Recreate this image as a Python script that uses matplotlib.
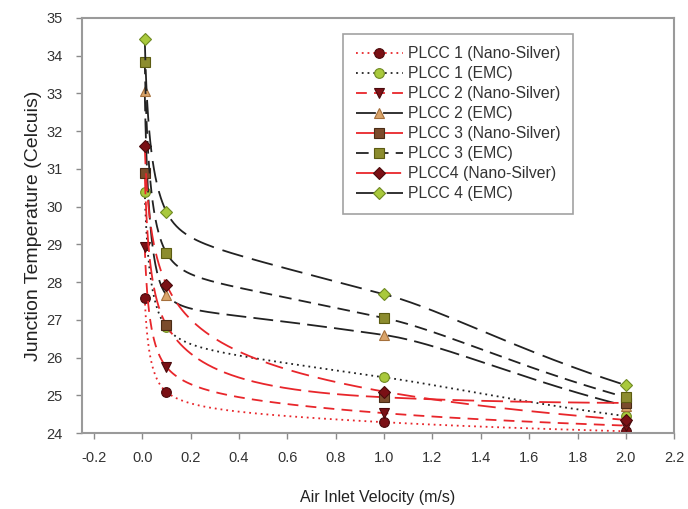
import numpy as np
import matplotlib
matplotlib.use("Agg")
import matplotlib.pyplot as plt

plt.rcParams['font.family'] = ['Liberation Sans', 'DejaVu Sans']

# ---- data ----
velocity = [0.01, 0.1, 1.0, 2.0]

plcc1_nano = [27.58, 25.09, 24.29, 24.05]
plcc1_emc = [30.40, 26.80, 25.48, 24.45]
plcc2_nano = [28.93, 25.75, 24.53, 24.20]
plcc2_emc = [33.05, 27.66, 26.60, 24.72]
plcc3_nano = [30.90, 26.86, 24.95, 24.80]
plcc3_emc = [33.84, 28.77, 27.05, 24.95]
plcc4_nano = [31.60, 27.93, 25.10, 24.35]
plcc4_emc = [34.45, 29.86, 27.68, 25.27]

labels = ["PLCC 1 (Nano-Silver)", "PLCC 1 (EMC)", "PLCC 2 (Nano-Silver)",
          "PLCC 2 (EMC)", "PLCC 3 (Nano-Silver)", "PLCC 3 (EMC)",
          "PLCC4 (Nano-Silver)", "PLCC 4 (EMC)"]
series = [plcc1_nano, plcc1_emc, plcc2_nano, plcc2_emc,
          plcc3_nano, plcc3_emc, plcc4_nano, plcc4_emc]

RED = '#e8262b'
DARK = '#222222'
styles = [
    dict(color=RED, ls=(0, (1, 2.2)), marker='o', mfc='#7a1015', mec='#4a0a0c', ms=7),
    dict(color=DARK, ls=(0, (1, 2.2)), marker='o', mfc='#a9c93c', mec='#6f8a22', ms=7),
    dict(color=RED, ls=(0, (6, 4)), marker='v', mfc='#7a1015', mec='#4a0a0c', ms=7.5),
    dict(color=DARK, ls=(0, (11, 4)), marker='^', mfc='#d9a46a', mec='#a5703c', ms=7.5),
    dict(color=RED, ls=(0, (12, 4)), marker='s', mfc='#7b4c2c', mec='#4a2c16', ms=6.5),
    dict(color=DARK, ls=(0, (7, 4)), marker='s', mfc='#8c8c2e', mec='#5c5c12', ms=6.5),
    dict(color=RED, ls=(0, (10, 5)), marker='D', mfc='#7a1015', mec='#4a0a0c', ms=6),
    dict(color=DARK, ls=(0, (12, 5)), marker='D', mfc='#a9c93c', mec='#6f8a22', ms=6),
]


def pchip_slopes(u, v):
    u = np.asarray(u, float)
    v = np.asarray(v, float)
    h = np.diff(u)
    delta = np.diff(v) / h
    n = len(u)
    d = np.zeros(n)
    for k in range(1, n - 1):
        if delta[k - 1] * delta[k] > 0:
            w1 = 2 * h[k] + h[k - 1]
            w2 = h[k] + 2 * h[k - 1]
            d[k] = (w1 + w2) / (w1 / delta[k - 1] + w2 / delta[k])
    d0 = ((2 * h[0] + h[1]) * delta[0] - h[0] * delta[1]) / (h[0] + h[1])
    if np.sign(d0) != np.sign(delta[0]):
        d0 = 0
    elif np.sign(delta[0]) != np.sign(delta[1]) and abs(d0) > abs(3 * delta[0]):
        d0 = 3 * delta[0]
    d[0] = d0
    dn = ((2 * h[-1] + h[-2]) * delta[-1] - h[-1] * delta[-2]) / (h[-1] + h[-2])
    if np.sign(dn) != np.sign(delta[-1]):
        dn = 0
    elif np.sign(delta[-1]) != np.sign(delta[-2]) and abs(dn) > abs(3 * delta[-1]):
        dn = 3 * delta[-1]
    d[-1] = dn
    return d


def smooth_curve(xs, ys, K=60):
    # monotone smoothing (in log-velocity) drawn through the read data points
    u = np.log10(np.asarray(xs, float))
    v = np.asarray(ys, float)
    d = pchip_slopes(u, v)
    U, Y = [], []
    for i in range(len(u) - 1):
        h = u[i + 1] - u[i]
        s = np.linspace(0, 1, K, endpoint=False)
        h00 = 2 * s**3 - 3 * s**2 + 1
        h10 = s**3 - 2 * s**2 + s
        h01 = -2 * s**3 + 3 * s**2
        h11 = s**3 - s**2
        U.append(u[i] + s * h)
        Y.append(h00 * v[i] + h10 * h * d[i] + h01 * v[i + 1] + h11 * h * d[i + 1])
    U.append([u[-1]])
    Y.append([v[-1]])
    return 10 ** np.concatenate(U), np.concatenate(Y), [i * K for i in range(len(xs))]


fig = plt.figure(figsize=(6.88, 5.09), dpi=100)
ax = fig.add_axes([0.119, 0.149, 0.861, 0.816])

for lab, ys, st in zip(labels, series, styles):
    X, Y, idx = smooth_curve(velocity, ys)
    ax.plot(X, Y, color=st['color'], ls=st['ls'], lw=1.3,
            marker=st['marker'], markevery=idx, markerfacecolor=st['mfc'],
            markeredgecolor=st['mec'], markersize=st['ms'], markeredgewidth=0.8,
            label=lab)

ax.set_xlim(-0.25, 2.2)
ax.set_ylim(24, 35)
xt = np.arange(-0.2, 2.21, 0.2)
ax.set_xticks(xt)
ax.set_xticklabels([f"{v:.1f}" for v in xt])
ax.set_yticks(range(24, 36))

for sp in ax.spines.values():
    sp.set_color('#9a9a9a')
    sp.set_linewidth(1.5)
ax.tick_params(direction='out', length=4, width=1, color='#8a8a8a',
               labelsize=10.5, labelcolor='#333333')
ax.tick_params(axis='x', pad=9)
ax.tick_params(axis='y', pad=10)

ax.set_xlabel("Air Inlet Velocity (m/s)", fontsize=11.5, color='#222222', labelpad=18)
ax.set_ylabel("Junction Temperature (Celcuis)", fontsize=14, color='#222222', labelpad=3)

leg = ax.legend(loc='upper left', bbox_to_anchor=(0.441, 0.962), borderaxespad=0,
                fontsize=11.3, frameon=True, fancybox=False, handlelength=3.0,
                numpoints=1, borderpad=0.8, labelspacing=0.32, handletextpad=0.35)
leg.get_frame().set_edgecolor('#8a8a8a')
leg.get_frame().set_linewidth(1.2)
for t in leg.get_texts():
    t.set_color('#333333')

fig.savefig("out.png", dpi=100)
